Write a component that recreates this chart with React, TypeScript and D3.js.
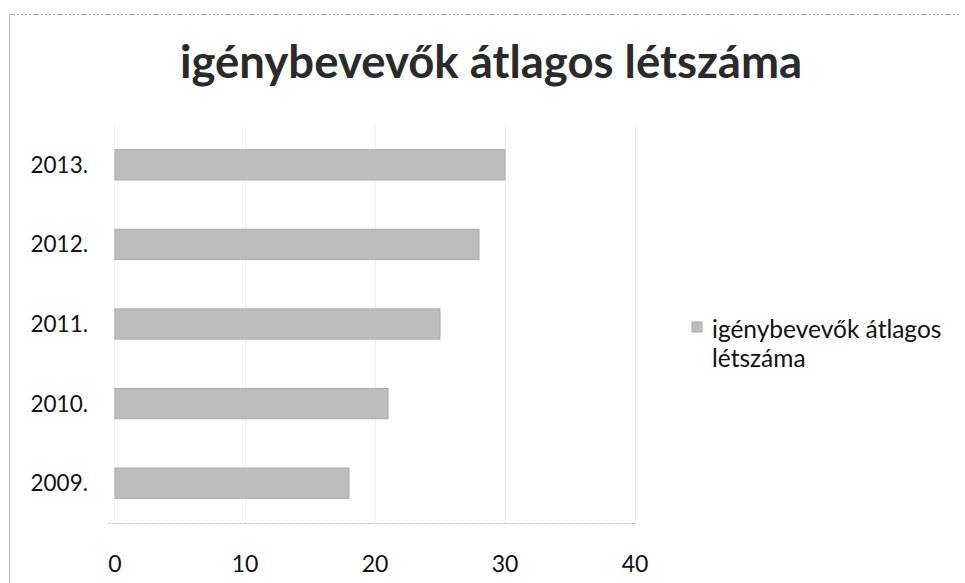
import React, { useEffect, useRef } from "react";
import * as d3 from "d3";

const title = "igénybevevők átlagos létszáma";
const years = ["2013.", "2012.", "2011.", "2010.", "2009."];
const values = [30, 28, 25, 21, 18];
const xTicks = [0, 10, 20, 30, 40];
const legendLines = ["igénybevevők átlagos", "létszáma"];

const W = 965;
const H = 583;

export default function App() {
  const svgRef = useRef<SVGSVGElement>(null);

  useEffect(() => {
    const svg = d3.select(svgRef.current);
    svg.selectAll("*").remove();

    const font = "Lato, 'Open Sans', sans-serif";
    const x = d3.scaleLinear().domain([0, 40]).range([115, 635]);
    const y = d3.scaleBand().domain(years).range([125, 523]).paddingInner(0.62).paddingOuter(0.31);

    // frame
    svg.append("line").attr("x1", 9).attr("x2", 958).attr("y1", 14.5).attr("y2", 14.5)
      .attr("stroke", "#aaa").attr("stroke-dasharray", "6 2 2 2");
    svg.append("line").attr("x1", 9.5).attr("x2", 9.5).attr("y1", 14).attr("y2", H)
      .attr("stroke", "#bbb");

    // title
    svg.append("text").attr("x", 491).attr("y", 78).attr("text-anchor", "middle")
      .attr("font-family", font).attr("font-weight", 700).attr("font-size", 45.5)
      .attr("fill", "#2a2a2a").text(title);

    // grid
    svg.append("g").selectAll("line").data(xTicks.slice(1)).join("line")
      .attr("x1", (d) => x(d) + 0.5).attr("x2", (d) => x(d) + 0.5)
      .attr("y1", 125).attr("y2", 523).attr("stroke", "#f0f0f0");
    svg.append("line").attr("x1", x(0) - 0.5).attr("x2", x(0) - 0.5).attr("y1", 125).attr("y2", 523)
      .attr("stroke", "#f2f2f2");

    // baseline
    svg.append("line").attr("x1", 108).attr("x2", 636).attr("y1", 523.5).attr("y2", 523.5)
      .attr("stroke", "#c8c8c8").attr("stroke-dasharray", "3 1");

    // bars
    svg.append("g").selectAll("rect").data(values).join("rect")
      .attr("x", x(0))
      .attr("y", (_, i) => y(years[i])!)
      .attr("width", (d) => x(d) - x(0))
      .attr("height", y.bandwidth())
      .attr("fill", "#bdbdbd")
      .attr("stroke", "#a9a9a9")
      .attr("stroke-width", 1);

    // y labels
    svg.append("g").selectAll("text").data(years).join("text")
      .attr("x", 88).attr("y", (d) => y(d)! + y.bandwidth() / 2 + 8)
      .attr("text-anchor", "end").attr("font-family", font).attr("font-size", 22.5)
      .attr("fill", "#111").text((d) => d);

    // x labels
    svg.append("g").selectAll("text").data(xTicks).join("text")
      .attr("x", (d) => x(d)).attr("y", 572)
      .attr("text-anchor", "middle").attr("font-family", font).attr("font-size", 23)
      .attr("fill", "#111").text((d) => d);

    // legend
    svg.append("rect").attr("x", 692).attr("y", 322).attr("width", 10).attr("height", 10)
      .attr("fill", "#bdbdbd").attr("stroke", "#a9a9a9");
    svg.append("g").selectAll("text").data(legendLines).join("text")
      .attr("x", 712).attr("y", (_, i) => 338 + i * 29)
      .attr("font-family", font).attr("font-size", 24.5).attr("fill", "#111")
      .text((d) => d);
  }, []);

  return (
    <svg ref={svgRef} width={W} height={H} style={{ position: "absolute", left: 0, top: 0, background: "#fff" }} />
  );
}
